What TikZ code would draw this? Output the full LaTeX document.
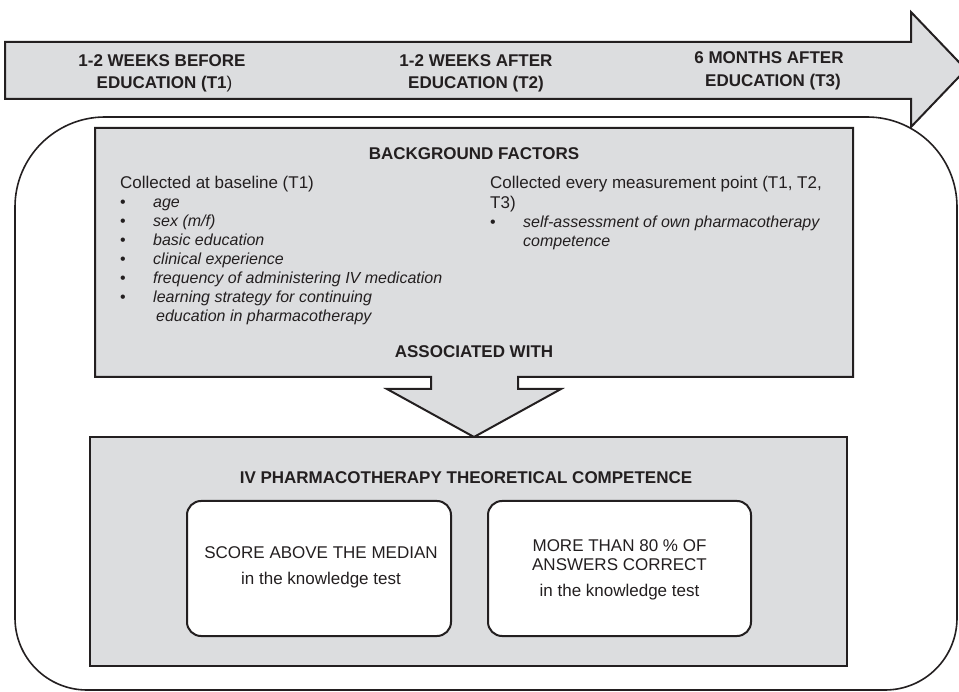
\documentclass[tikz,border=0pt]{standalone}
\usepackage{fontspec}
\setmainfont{Liberation Sans}
\definecolor{boxgray}{RGB}{220,221,223}
\definecolor{ink}{RGB}{35,31,32}
\begin{document}
\begin{tikzpicture}[x=1pt,y=-1pt,
  outline/.style={draw=ink, line width=2pt, line join=miter},
  roundline/.style={draw=ink, line width=1.6pt},
  txt/.style={inner sep=0pt, text=ink, font=\fontsize{17}{20}\selectfont, anchor=base},
  hdr/.style={inner sep=0pt, text=ink, font=\fontsize{17}{20}\selectfont\bfseries, anchor=base},
  lead/.style={inner sep=0pt, text=ink, font=\fontsize{17}{20}\selectfont, anchor=base west},
  item/.style={inner sep=0pt, text=ink, font=\fontsize{16}{19}\selectfont\itshape, anchor=base west},
  bul/.style={inner sep=0pt, text=ink, font=\fontsize{16}{19}\selectfont, anchor=base west},
  inner/.style={draw=ink, line width=2pt, fill=white, rounded corners=14pt}]
\useasboundingbox (0,0) rectangle (959,692);
\clip (0,0) rectangle (959,692);

% outer rounded frame
\draw[roundline] (105,117) -- (867,117) .. controls (916.7,117) and (957,157.3) .. (957,207)
  -- (957,618) .. controls (957,657.8) and (924.8,690) .. (885,690)
  -- (87,690) .. controls (47.2,690) and (15,657.8) .. (15,618)
  -- (15,207) .. controls (15,157.3) and (55.3,117) .. (105,117) -- cycle;

% timeline arrow
\draw[outline, fill=boxgray] (5,42) -- (911,42) -- (911,12) -- (966,69.5) -- (911,127) -- (911,99) -- (5,99) -- cycle;
\node[hdr] (t1a) at (162,67) {1-2 WEEKS BEFORE};
\node[hdr] (t1b) at (164.5,89) {EDUCATION (T1\textmd{)}};
\node[hdr] (t2a) at (476,67) {1-2 WEEKS AFTER};
\node[hdr] (t2b) at (476,89) {EDUCATION (T2)};
\node[hdr] (t3a) at (769,64) {6 MONTHS AFTER};
\node[hdr] (t3b) at (773,87) {EDUCATION (T3)};

% background factors box with down arrow
\draw[outline, fill=boxgray] (95,128) -- (853,128) -- (853,377) -- (518,377) -- (518,389)
  -- (561,389) -- (474,437) -- (387,389) -- (431,389) -- (431,377) -- (95,377) -- cycle;
\node[hdr] (bgtitle) at (474,160) {BACKGROUND FACTORS};
\node[lead] (lefthead) at (120,189) {Collected at baseline (T1)};
\foreach \y/\t [count=\i] in {208/{age}, 227/{sex (m/f)}, 246/{basic education}, 265/{clinical experience},
    284/{frequency of administering IV medication}, 303/{learning strategy for continuing}}{
  \node[bul] (lb\i) at (120,\y) {•};
  \node[item] (li\i) at (153,\y) {\t};
}
\node[item] (li7) at (156,322) {education in pharmacotherapy};
\node[lead] (righthead) at (490,189) {Collected every measurement point (T1, T2,};
\node[lead] (righthead2) at (490,209) {T3)};
\node[bul] (rb1) at (490,228) {•};
\node[item] (ri1) at (523,228) {self-assessment of own pharmacotherapy};
\node[item] (ri2) at (523,247) {competence};
\node[hdr] (assoc) at (474,358) {ASSOCIATED WITH};

% competence box
\draw[outline, fill=boxgray] (90,437) rectangle (847,666);
\node[hdr] (comptitle) at (466,484) {IV PHARMACOTHERAPY THEORETICAL COMPETENCE};
\draw[inner] (187,501) rectangle (451,636);
\draw[inner] (488,501) rectangle (751,636);
\node[txt] (s1) at (321,558) {SCORE ABOVE THE MEDIAN};
\node[txt] (s2) at (321,584) {in the knowledge test};
\node[txt] (m1) at (619.5,551) {MORE THAN 80 \% OF};
\node[txt] (m2) at (619.5,570) {ANSWERS CORRECT};
\node[txt] (m3) at (619.5,596) {in the knowledge test};
\end{tikzpicture}
\end{document}
